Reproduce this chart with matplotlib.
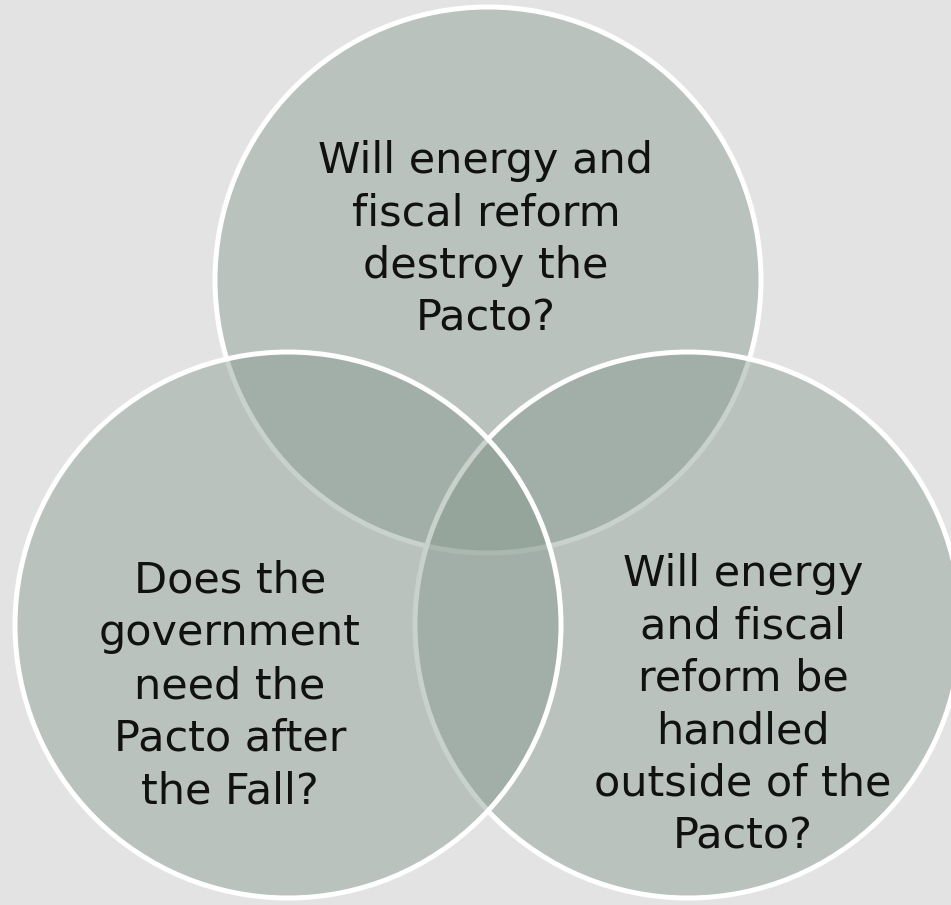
"""
Venn diagram: three questions about the Pacto
"""

import matplotlib
matplotlib.use("Agg")
import matplotlib.pyplot as plt
import matplotlib.patches as mpatches

# circle labels (drawn in this order: top, right, left)
labels = [
    "Will energy and\nfiscal reform\ndestroy the\nPacto?",
    "Will energy\nand fiscal\nreform be\nhandled\noutside of the\nPacto?",
    "Does the\ngovernment\nneed the\nPacto after\nthe Fall?",
]

# layout in pixel coordinates (y downwards)
W, H = 951, 905
centers = [(488, 280), (688, 625), (288, 625)]
text_pos = [(486, 240), (743, 705), (230, 686)]
radius = 273

BG = "#e3e3e3"
FILL = (134 / 255, 154 / 255, 143 / 255, 0.45)

plt.rcParams["font.family"] = ["DejaVu Sans"]

fig = plt.figure(figsize=(W / 100, H / 100), dpi=100, facecolor=BG)
ax = fig.add_axes([0, 0, 1, 1])
ax.set_xlim(0, W)
ax.set_ylim(H, 0)
ax.set_aspect("equal")
ax.axis("off")

for i, (c, lab, tp) in enumerate(zip(centers, labels, text_pos)):
    circ = mpatches.Circle(c, radius, facecolor=FILL, edgecolor="white",
                           linewidth=3.6, zorder=i + 1)
    ax.add_patch(circ)

for lab, tp in zip(labels, text_pos):
    ax.text(tp[0], tp[1], lab, ha="center", va="center", fontsize=31,
            color="#111111", linespacing=1.32, zorder=10)

fig.savefig("out.png", dpi=100, facecolor=BG)
plt.close(fig)
